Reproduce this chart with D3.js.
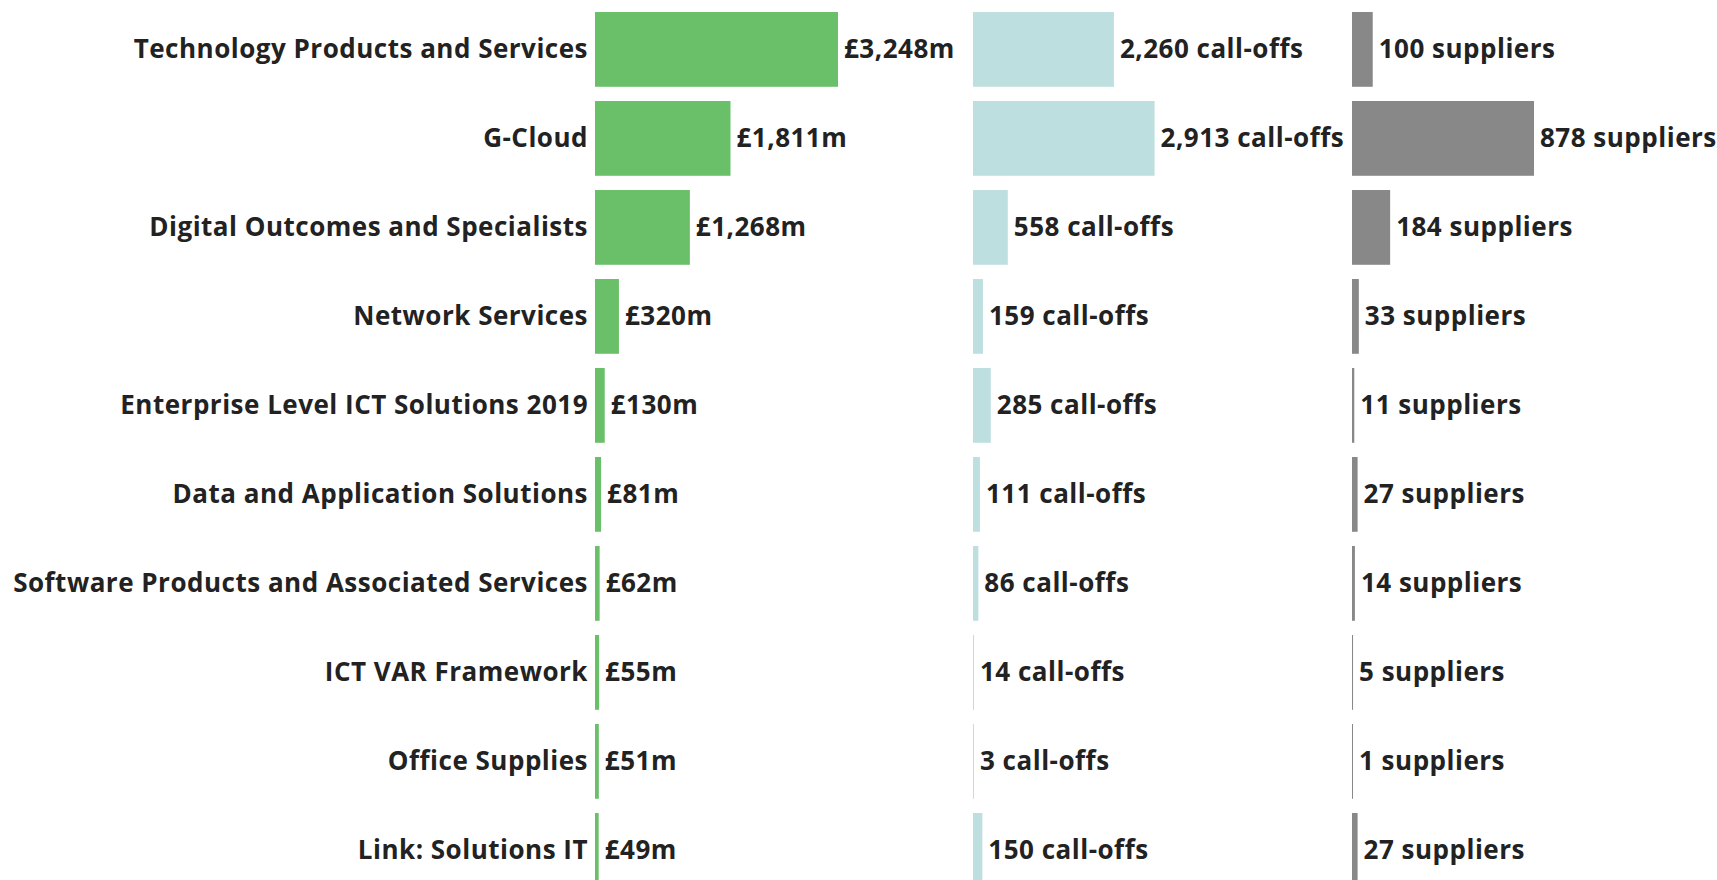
<!doctype html>
<html>
<head>
<script src="https://d3js.org/d3.v7.min.js"></script>
<style>
  body { margin: 0; background: #fff; }
  text { font-family: "Open Sans", Lato, sans-serif; font-weight: 700; fill: #222; letter-spacing: 0.5px; }
</style>
</head>
<body>
<svg width="1717" height="880"></svg>
<script>
var frameworks = ["Technology Products and Services", "G-Cloud", "Digital Outcomes and Specialists",
  "Network Services", "Enterprise Level ICT Solutions 2019", "Data and Application Solutions",
  "Software Products and Associated Services", "ICT VAR Framework", "Office Supplies", "Link: Solutions IT"];
var spend = [3248, 1811, 1268, 320, 130, 81, 62, 55, 51, 49];      // £m
var callOffs = [2260, 2913, 558, 159, 285, 111, 86, 14, 3, 150];
var suppliers = [100, 878, 184, 33, 11, 27, 14, 5, 1, 27];

var svg = d3.select("svg");
var fontSize = 26;

var y = d3.scaleBand()
    .domain(frameworks)
    .range([4.9, 894.9])
    .paddingInner(0.16)
    .paddingOuter(0.08);

var fmt = d3.format(",");

var columns = [
  { values: spend, x0: 595, width: 243, color: "#6abf69", label: function(d) { return "£" + fmt(d) + "m"; } },
  { values: callOffs, x0: 973, width: 181.6, color: "#bedfe0", label: function(d) { return fmt(d) + " call-offs"; } },
  { values: suppliers, x0: 1352, width: 182, color: "#888888", label: function(d) { return fmt(d) + " suppliers"; } }
];

// category labels
svg.append("g").selectAll("text")
  .data(frameworks)
  .join("text")
    .attr("x", 588)
    .attr("y", function(d) { return y(d) + y.bandwidth() / 2; })
    .attr("dy", "0.32em")
    .attr("text-anchor", "end")
    .style("font-size", fontSize + "px")
    .text(function(d) { return d; });

columns.forEach(function(col) {
  var x = d3.scaleLinear()
      .domain([0, d3.max(col.values)])
      .range([col.x0, col.x0 + col.width]);

  var g = svg.append("g");

  g.selectAll("rect")
    .data(col.values)
    .join("rect")
      .attr("x", x(0))
      .attr("y", function(d, i) { return y(frameworks[i]); })
      .attr("width", function(d) { return Math.max(1, x(d) - x(0)); })
      .attr("height", y.bandwidth())
      .attr("fill", col.color);

  g.selectAll("text")
    .data(col.values)
    .join("text")
      .attr("x", function(d) { return x(0) + Math.max(1, x(d) - x(0)) + 6; })
      .attr("y", function(d, i) { return y(frameworks[i]) + y.bandwidth() / 2; })
      .attr("dy", "0.32em")
      .style("font-size", fontSize + "px")
      .text(col.label);
});
</script>
</body>
</html>
